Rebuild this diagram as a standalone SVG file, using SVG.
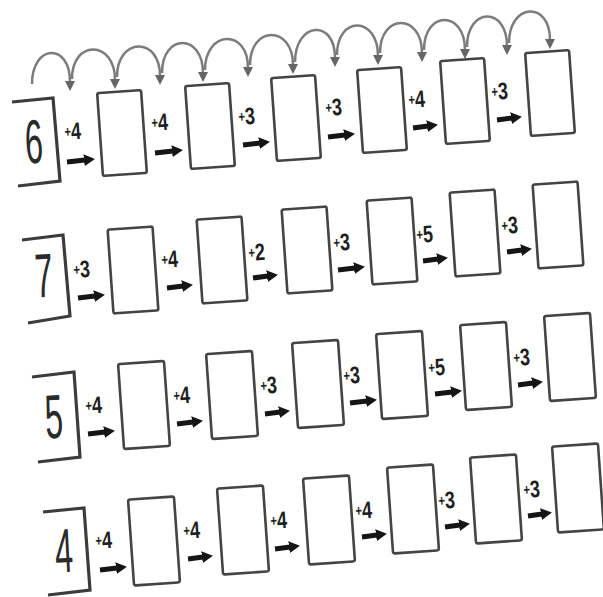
<svg xmlns="http://www.w3.org/2000/svg" width="603" height="597" viewBox="0 0 603 597">
<defs>
<style>
.box{fill:#fff;stroke:#444;stroke-width:2.6}
.br{fill:none;stroke:#3c3c3c;stroke-width:3.2;stroke-linejoin:miter}
.num{font-family:"Liberation Sans",Arial,sans-serif;font-size:62px;fill:#2a2a2a;text-anchor:middle}
.lbl{font-family:"Liberation Sans",Arial,sans-serif;font-size:24px;font-weight:bold;fill:#1e1e1e}
.pl{font-size:15px}
.arr{stroke:#151515;stroke-width:5;fill:none;marker-end:url(#ah)}
.arc{stroke:#7c7c7c;stroke-width:2.5;fill:none;marker-end:url(#gh)}
</style>
<marker id="ah" markerUnits="userSpaceOnUse" markerWidth="11" markerHeight="12" refX="1" refY="6" orient="auto"><path d="M0,0 L11,6 L0,12 z" fill="#151515"/></marker>
<marker id="gh" markerUnits="userSpaceOnUse" markerWidth="10" markerHeight="10" refX="1" refY="5" orient="auto"><path d="M0,0 L10,5 L0,10 z" fill="#666"/></marker>
</defs>
<rect width="603" height="597" fill="#fff"/>

<!-- start nodes -->
<g id="start-6"><polyline class="br" points="12,102 53,98 60,181 18,186"/><text class="num" transform="translate(35,163) rotate(-3) scale(0.52,1)">6</text></g>
<g id="start-7"><polyline class="br" points="22,240 63,235 70,316 28,323"/><text class="num" transform="translate(45,297) rotate(-3) scale(0.52,1)">7</text></g>
<g id="start-5"><polyline class="br" points="32,377 74,372 80,457 38,462"/><text class="num" transform="translate(55,438) rotate(-3) scale(0.52,1)">5</text></g>
<g id="start-4"><polyline class="br" points="43,512 84,508 90,590 48,595"/><text class="num" transform="translate(65,572) rotate(-3) scale(0.52,1)">4</text></g>

<!-- row 1 boxes -->
<g id="r1b1" transform="translate(122,133) rotate(-4)"><rect class="box" x="-22" y="-41.5" width="44" height="83" rx="2"/></g>
<g id="r1b2" transform="translate(210,126) rotate(-4)"><rect class="box" x="-22" y="-41.5" width="44" height="83" rx="2"/></g>
<g id="r1b3" transform="translate(296,118) rotate(-4)"><rect class="box" x="-22" y="-41.5" width="44" height="83" rx="2"/></g>
<g id="r1b4" transform="translate(382,110) rotate(-4)"><rect class="box" x="-22" y="-41.5" width="44" height="83" rx="2"/></g>
<g id="r1b5" transform="translate(465,101) rotate(-4)"><rect class="box" x="-22" y="-41.5" width="44" height="83" rx="2"/></g>
<g id="r1b6" transform="translate(550,93) rotate(-4)"><rect class="box" x="-22" y="-41.5" width="44" height="83" rx="2"/></g>

<!-- row 2 boxes -->
<g id="r2b1" transform="translate(133,270) rotate(-4)"><rect class="box" x="-22.5" y="-42" width="45" height="84" rx="2"/></g>
<g id="r2b2" transform="translate(222,260) rotate(-4)"><rect class="box" x="-22.5" y="-42" width="45" height="84" rx="2"/></g>
<g id="r2b3" transform="translate(307,250) rotate(-4)"><rect class="box" x="-22.5" y="-42" width="45" height="84" rx="2"/></g>
<g id="r2b4" transform="translate(392,241) rotate(-4)"><rect class="box" x="-22.5" y="-42" width="45" height="84" rx="2"/></g>
<g id="r2b5" transform="translate(475,233) rotate(-4)"><rect class="box" x="-22.5" y="-42" width="45" height="84" rx="2"/></g>
<g id="r2b6" transform="translate(558,225) rotate(-4)"><rect class="box" x="-22.5" y="-42" width="45" height="84" rx="2"/></g>

<!-- row 3 boxes -->
<g id="r3b1" transform="translate(144,405) rotate(-4)"><rect class="box" x="-23" y="-42.5" width="46" height="85" rx="2"/></g>
<g id="r3b2" transform="translate(232,395) rotate(-4)"><rect class="box" x="-23" y="-42.5" width="46" height="85" rx="2"/></g>
<g id="r3b3" transform="translate(318,384) rotate(-4)"><rect class="box" x="-23" y="-42.5" width="46" height="85" rx="2"/></g>
<g id="r3b4" transform="translate(402,375) rotate(-4)"><rect class="box" x="-23" y="-42.5" width="46" height="85" rx="2"/></g>
<g id="r3b5" transform="translate(486,366) rotate(-4)"><rect class="box" x="-23" y="-42.5" width="46" height="85" rx="2"/></g>
<g id="r3b6" transform="translate(570,357) rotate(-4)"><rect class="box" x="-23" y="-42.5" width="46" height="85" rx="2"/></g>

<!-- row 4 boxes -->
<g id="r4b1" transform="translate(154,541) rotate(-4)"><rect class="box" x="-23" y="-43" width="46" height="86" rx="2"/></g>
<g id="r4b2" transform="translate(243,530) rotate(-4)"><rect class="box" x="-23" y="-43" width="46" height="86" rx="2"/></g>
<g id="r4b3" transform="translate(329,520) rotate(-4)"><rect class="box" x="-23" y="-43" width="46" height="86" rx="2"/></g>
<g id="r4b4" transform="translate(413,509) rotate(-4)"><rect class="box" x="-23" y="-43" width="46" height="86" rx="2"/></g>
<g id="r4b5" transform="translate(496,499) rotate(-4)"><rect class="box" x="-23" y="-43" width="46" height="86" rx="2"/></g>
<g id="r4b6" transform="translate(578,488) rotate(-4)"><rect class="box" x="-23" y="-43" width="46" height="86" rx="2"/></g>

<!-- connectors -->
<g id="connectors">
<g id="hops">
<path class="arc" d="M32,84 C32,44 70,42 70,82"/>
<path class="arc" d="M72,79 C72,39 115,40 115,80"/>
<path class="arc" d="M117,77 C117,37 160,36 160,76"/>
<path class="arc" d="M162,73 C162,33 203,33 203,73"/>
<path class="arc" d="M205,70 C205,30 248,28 248,68"/>
<path class="arc" d="M250,65 C250,25 293,25 293,65"/>
<path class="arc" d="M295,62 C295,22 335,18 335,58"/>
<path class="arc" d="M337,55 C337,15 378,16 378,56"/>
<path class="arc" d="M380,53 C380,13 422,13 422,53"/>
<path class="arc" d="M424,50 C424,10 465,10 465,50"/>
<path class="arc" d="M467,47 C467,7 507,6 507,46"/>
<path class="arc" d="M509,43 C509,3 550,0 550,40"/>
</g>
<g id="arrows">
<line class="arr" x1="67" y1="162" x2="85" y2="160"/>
<line class="arr" x1="155" y1="153" x2="173" y2="151"/>
<line class="arr" x1="243" y1="145" x2="260" y2="143"/>
<line class="arr" x1="328" y1="137" x2="345" y2="135"/>
<line class="arr" x1="413" y1="128" x2="428" y2="126"/>
<line class="arr" x1="497" y1="120" x2="512" y2="118"/>

<line class="arr" x1="78" y1="298" x2="95" y2="296"/>
<line class="arr" x1="167" y1="288" x2="183" y2="286"/>
<line class="arr" x1="253" y1="278" x2="268" y2="276"/>
<line class="arr" x1="338" y1="270" x2="355" y2="268"/>
<line class="arr" x1="423" y1="261" x2="438" y2="259"/>
<line class="arr" x1="507" y1="252" x2="522" y2="250"/>

<line class="arr" x1="88" y1="434" x2="105" y2="432"/>
<line class="arr" x1="177" y1="424" x2="193" y2="422"/>
<line class="arr" x1="265" y1="414" x2="280" y2="412"/>
<line class="arr" x1="350" y1="403" x2="367" y2="401"/>
<line class="arr" x1="435" y1="394" x2="452" y2="392"/>
<line class="arr" x1="518" y1="385" x2="533" y2="383"/>

<line class="arr" x1="100" y1="570" x2="117" y2="568"/>
<line class="arr" x1="188" y1="559" x2="203" y2="557"/>
<line class="arr" x1="275" y1="549" x2="290" y2="547"/>
<line class="arr" x1="362" y1="537" x2="377" y2="535"/>
<line class="arr" x1="445" y1="527" x2="460" y2="525"/>
<line class="arr" x1="528" y1="516" x2="542" y2="514"/>
</g>
<g id="labels">
<text class="lbl" transform="translate(65,140) rotate(-4) scale(0.75,1)"><tspan class="pl" dy="-3">+</tspan><tspan dy="3">4</tspan></text>
<text class="lbl" transform="translate(152,131) rotate(-4) scale(0.75,1)"><tspan class="pl" dy="-3">+</tspan><tspan dy="3">4</tspan></text>
<text class="lbl" transform="translate(239,125) rotate(-4) scale(0.75,1)"><tspan class="pl" dy="-3">+</tspan><tspan dy="3">3</tspan></text>
<text class="lbl" transform="translate(326,116) rotate(-4) scale(0.75,1)"><tspan class="pl" dy="-3">+</tspan><tspan dy="3">3</tspan></text>
<text class="lbl" transform="translate(409,108) rotate(-4) scale(0.75,1)"><tspan class="pl" dy="-3">+</tspan><tspan dy="3">4</tspan></text>
<text class="lbl" transform="translate(492,100) rotate(-4) scale(0.75,1)"><tspan class="pl" dy="-3">+</tspan><tspan dy="3">3</tspan></text>

<text class="lbl" transform="translate(74,278) rotate(-4) scale(0.75,1)"><tspan class="pl" dy="-3">+</tspan><tspan dy="3">3</tspan></text>
<text class="lbl" transform="translate(162,268) rotate(-4) scale(0.75,1)"><tspan class="pl" dy="-3">+</tspan><tspan dy="3">4</tspan></text>
<text class="lbl" transform="translate(249,261) rotate(-4) scale(0.75,1)"><tspan class="pl" dy="-3">+</tspan><tspan dy="3">2</tspan></text>
<text class="lbl" transform="translate(334,251) rotate(-4) scale(0.75,1)"><tspan class="pl" dy="-3">+</tspan><tspan dy="3">3</tspan></text>
<text class="lbl" transform="translate(417,243) rotate(-4) scale(0.75,1)"><tspan class="pl" dy="-3">+</tspan><tspan dy="3">5</tspan></text>
<text class="lbl" transform="translate(502,234) rotate(-4) scale(0.75,1)"><tspan class="pl" dy="-3">+</tspan><tspan dy="3">3</tspan></text>

<text class="lbl" transform="translate(86,414) rotate(-4) scale(0.75,1)"><tspan class="pl" dy="-3">+</tspan><tspan dy="3">4</tspan></text>
<text class="lbl" transform="translate(174,404) rotate(-4) scale(0.75,1)"><tspan class="pl" dy="-3">+</tspan><tspan dy="3">4</tspan></text>
<text class="lbl" transform="translate(261,394) rotate(-4) scale(0.75,1)"><tspan class="pl" dy="-3">+</tspan><tspan dy="3">3</tspan></text>
<text class="lbl" transform="translate(344,384) rotate(-4) scale(0.75,1)"><tspan class="pl" dy="-3">+</tspan><tspan dy="3">3</tspan></text>
<text class="lbl" transform="translate(429,376) rotate(-4) scale(0.75,1)"><tspan class="pl" dy="-3">+</tspan><tspan dy="3">5</tspan></text>
<text class="lbl" transform="translate(514,366) rotate(-4) scale(0.75,1)"><tspan class="pl" dy="-3">+</tspan><tspan dy="3">3</tspan></text>

<text class="lbl" transform="translate(96,549) rotate(-4) scale(0.75,1)"><tspan class="pl" dy="-3">+</tspan><tspan dy="3">4</tspan></text>
<text class="lbl" transform="translate(184,539) rotate(-4) scale(0.75,1)"><tspan class="pl" dy="-3">+</tspan><tspan dy="3">4</tspan></text>
<text class="lbl" transform="translate(271,529) rotate(-4) scale(0.75,1)"><tspan class="pl" dy="-3">+</tspan><tspan dy="3">4</tspan></text>
<text class="lbl" transform="translate(356,519) rotate(-4) scale(0.75,1)"><tspan class="pl" dy="-3">+</tspan><tspan dy="3">4</tspan></text>
<text class="lbl" transform="translate(439,509) rotate(-4) scale(0.75,1)"><tspan class="pl" dy="-3">+</tspan><tspan dy="3">3</tspan></text>
<text class="lbl" transform="translate(524,498) rotate(-4) scale(0.75,1)"><tspan class="pl" dy="-3">+</tspan><tspan dy="3">3</tspan></text>
</g>
</g>
</svg>
